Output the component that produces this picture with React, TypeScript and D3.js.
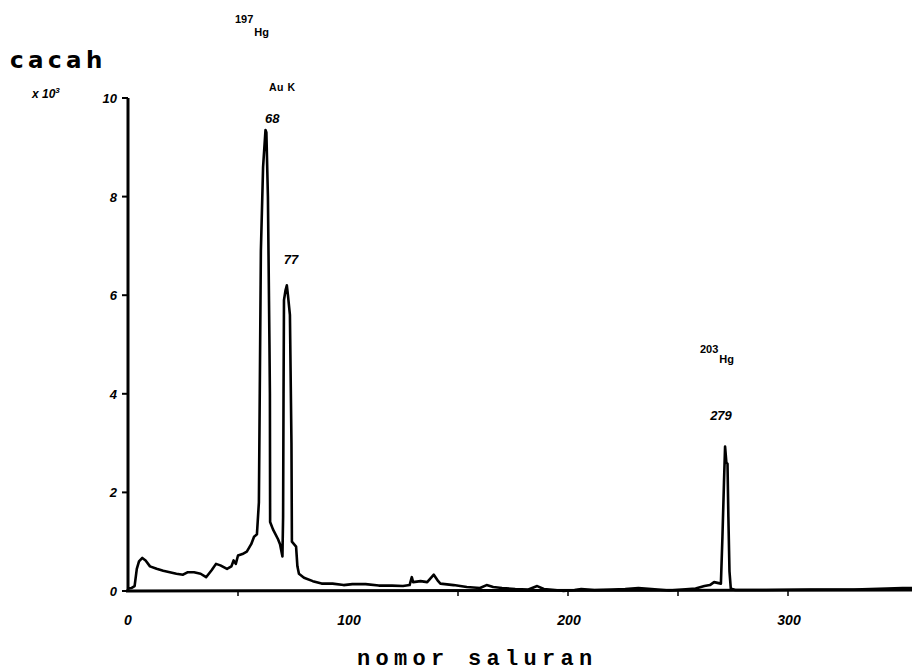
import React from "react";
import * as d3 from "d3";

// spectrum: channel number vs counts (x 10^3)
const channels = [
  0, 1.5, 3, 4, 5, 6.5, 8, 10, 13, 16, 19, 22, 25, 27, 30, 33, 35.5, 38, 40, 42, 45, 47, 48, 49, 50, 52, 54, 56, 57.3, 58.6,
  59.5, 59.8, 60.4, 61.4, 62.5, 62.9, 63.6, 64.3, 64.5, 64.6, 65.9, 68.2, 69.1, 70.2, 70.5, 70.7, 70.9, 71.6, 72.2, 72.7,
  73.6, 74.3, 74.5, 76.4, 77, 77.7, 80, 84, 88, 93, 98, 102, 108, 114, 120, 125, 128, 129, 129.6, 133, 136, 138, 139, 141,
  142, 148, 154, 160, 163, 166, 170, 176, 182, 186, 189, 194, 198, 203, 206, 212, 220, 226, 232, 238, 246, 252, 258, 262,
  264.5, 266.4, 269.5, 270.2, 270.9, 271.4, 272, 272.5, 272.9, 273.4, 274, 276, 290, 310, 330, 345, 352, 357,
];
const counts = [
  0.05, 0.06, 0.1, 0.45, 0.6, 0.67, 0.62, 0.5, 0.45, 0.41, 0.38, 0.35, 0.33, 0.38, 0.38, 0.35, 0.28, 0.42, 0.55, 0.52, 0.45,
  0.5, 0.62, 0.55, 0.72, 0.75, 0.8, 0.95, 1.1, 1.15,
  1.8, 3.5, 6.9, 8.6, 9.35, 9.3, 8.0, 5.0, 4.0, 1.4, 1.25, 1.05, 0.95, 0.7, 1.5, 4.0, 5.9, 6.1, 6.2, 6.0,
  5.6, 3.0, 1.0, 0.9, 0.5, 0.35, 0.27, 0.2, 0.15, 0.15, 0.12, 0.14, 0.14, 0.11, 0.11, 0.1, 0.12, 0.28, 0.18, 0.2, 0.18, 0.28,
  0.33, 0.2, 0.15, 0.12, 0.08, 0.06, 0.12, 0.08, 0.06, 0.04, 0.03, 0.1, 0.04, 0.02, 0.0, 0.02, 0.04, 0.02, 0.03, 0.04, 0.06,
  0.04, 0.01, 0.03, 0.05, 0.1,
  0.12, 0.18, 0.15, 1.1, 2.2, 2.93, 2.6, 2.58, 1.5, 0.4, 0.05, 0.02, 0.02, 0.03, 0.03, 0.05, 0.06, 0.06,
];

const yTicks = [0, 2, 4, 6, 8, 10];
const xTicks = [0, 100, 200, 300];
const xMinorTicks = [50, 150, 200, 250, 300];

// peak annotations (channel position, label)
const peakLabels = [
  { ch: 66, value: 9.35, text: "68" },
  { ch: 74.5, value: 6.2, text: "77" },
  { ch: 270, value: 2.93, text: "279" },
];

const W = 912;
const H = 672;

export default function App() {
  const x = d3.scaleLinear().domain([0, 360]).range([128, 128 + 360 * 2.2]);
  const y = d3.scaleLinear().domain([0, 10]).range([591, 98]);

  const line = d3
    .line<number>()
    .x((_, i) => x(channels[i]))
    .y((d) => y(d));

  const tickFont = "'Liberation Sans', Arial, sans-serif";

  return (
    <svg
      width={W}
      height={H}
      style={{ position: "absolute", left: 0, top: 0, background: "#fff" }}
    >
      {/* axis titles */}
      <text x={10} y={68} fontFamily="'DejaVu Sans', sans-serif" fontWeight="bold" fontSize={23} letterSpacing={4.4}>
        cacah
      </text>
      <text x={32} y={98} fontFamily={tickFont} fontWeight="bold" fontStyle="italic" fontSize={12}>
        x 10
        <tspan dy={-5} fontSize={8}>3</tspan>
      </text>
      <text x={357} y={665} fontFamily="'Liberation Mono', monospace" fontWeight="bold" fontSize={22} letterSpacing={5.3}>
        nomor saluran
      </text>

      {/* y axis */}
      <line x1={x(0)} x2={x(0)} y1={y(10)} y2={y(0) + 1} stroke="#000" strokeWidth={3} />
      {yTicks.map((t) => (
        <g key={t}>
          <line x1={x(0) - 6} x2={x(0)} y1={y(t)} y2={y(t)} stroke="#000" strokeWidth={2} />
          <text
            x={x(0) - 11}
            y={y(t) + 5}
            textAnchor="end"
            fontFamily={tickFont}
            fontWeight="bold"
            fontStyle="italic"
            fontSize={13}
          >
            {t}
          </text>
        </g>
      ))}

      {/* x axis */}
      <line x1={x(0) - 2} x2={W} y1={y(0)} y2={y(0) - 1} stroke="#000" strokeWidth={3} />
      {xMinorTicks.map((t) => (
        <line key={t} x1={x(t)} x2={x(t)} y1={y(0)} y2={y(0) + 5} stroke="#000" strokeWidth={1.5} />
      ))}
      {xTicks.map((t) => (
        <text
          key={t}
          x={x(t) + (t === 0 ? 0 : 1)}
          y={625}
          textAnchor="middle"
          fontFamily={tickFont}
          fontWeight="bold"
          fontStyle="italic"
          fontSize={14}
        >
          {t}
        </text>
      ))}

      {/* spectrum */}
      <path d={line(counts) ?? ""} fill="none" stroke="#000" strokeWidth={2.6} strokeLinejoin="round" />

      {/* peak labels */}
      {peakLabels.map((p) => (
        <text
          key={p.text}
          x={x(p.ch) - 1}
          y={y(p.value) - (p.text === "279" ? 27 : p.text === "77" ? 21 : 7)}
          textAnchor="middle"
          fontFamily={tickFont}
          fontWeight="bold"
          fontStyle="italic"
          fontSize={13}
        >
          {p.text}
        </text>
      ))}

      {/* isotope labels */}
      <text x={235} y={23} fontFamily={tickFont} fontWeight="bold" fontSize={11}>
        197
        <tspan dy={13} dx={1} fontSize={11}>Hg</tspan>
      </text>
      <text x={269} y={91} fontFamily={tickFont} fontWeight="bold" fontSize={10.5} letterSpacing={0.5}>
        Au K
      </text>
      <text x={700} y={353} fontFamily={tickFont} fontWeight="bold" fontSize={11}>
        203
        <tspan dy={10} dx={1} fontSize={11}>Hg</tspan>
      </text>
    </svg>
  );
}
